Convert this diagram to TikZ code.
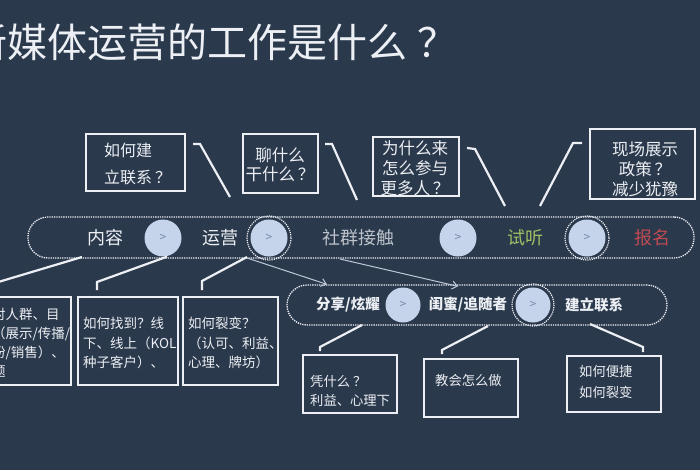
\documentclass[tikz,border=0pt]{standalone}
\usepackage{fontspec}
\setmainfont{Noto Sans CJK SC}
\usetikzlibrary{arrows.meta,calc}
\definecolor{bg}{RGB}{43,57,77}
\definecolor{lc}{RGB}{236,239,243}
\definecolor{tc}{RGB}{236,239,243}
\definecolor{cf}{RGB}{197,212,234}
\definecolor{gc}{RGB}{118,138,170}
\definecolor{ac}{RGB}{190,200,215}
\definecolor{gr}{RGB}{160,190,100}
\definecolor{rd}{RGB}{190,75,82}
\newcommand{\qm}{\hspace{3pt}？}
\begin{document}
\begin{tikzpicture}[x=1pt,y=-1pt,
  box/.style={draw=lc,line width=2.2pt,inner sep=0pt},
  txt/.style={text=tc,inner sep=0pt,align=left},
  pill/.style={draw=lc,densely dotted,line width=1.3pt,rounded corners=20pt,inner sep=0pt},
  dot/.style={circle,fill=cf,text=gc,minimum size=37pt,inner sep=0pt,font=\fontsize{12}{12}\selectfont},
  ring/.style={draw=lc,densely dotted,line width=1.2pt},
  conn/.style={draw=lc,line width=2.2pt},
  thinarr/.style={draw=ac,line width=1pt,-{Straight Barb[length=5pt,width=8pt]}},
  lab/.style={inner sep=0pt,font=\fontsize{18}{18}\selectfont},
  lab2/.style={inner sep=0pt,text=tc,font=\fontsize{14.5}{14.5}\selectfont\bfseries}
]
\useasboundingbox (0,0) rectangle (700,470);
\fill[bg] (0,0) rectangle (700,470);
\begin{scope}
\clip (0,0) rectangle (700,470);
% title
\node[anchor=west,text=tc,inner sep=0pt,font=\fontsize{40}{40}\selectfont] (title) at (-33,42) {新媒体运营的工作是什么\hspace{10pt}？};

% top boxes
\node[box,minimum width=99pt,minimum height=57pt] (t1) at (135.5,162.5) {};
\node[txt,anchor=west,font=\fontsize{16}{27}\selectfont] (t1t) at (104,163.5) {如何建\\立联系\qm};
\node[box,minimum width=75pt,minimum height=59pt] (t2) at (280.5,163.5) {};
\node[txt,align=center,font=\fontsize{16.5}{19}\selectfont] (t2t) at (280,164.5) {聊什么\\干什么\qm};
\node[box,minimum width=86pt,minimum height=59pt] (t3) at (416,166.5) {};
\node[txt,align=center,font=\fontsize{16.5}{20}\selectfont] (t3t) at (415,168) {为什么来\\怎么参与\\更多人\qm};
\node[box,minimum width=105pt,minimum height=70pt] (t4) at (642.5,164) {};
\node[txt,align=center,font=\fontsize{16.5}{20}\selectfont] (t4t) at (645,169) {现场展示\\政策\qm\\减少犹豫};

% slashes
\coordinate (s1a) at (193,144); \coordinate (s1b) at (200,144); \coordinate (s1c) at (230,197);
\coordinate (s2a) at (325,144); \coordinate (s2b) at (332,144); \coordinate (s2c) at (357,200);
\coordinate (s3a) at (467,148); \coordinate (s3b) at (475,149); \coordinate (s3c) at (505,206);
\coordinate (s4a) at (540,206); \coordinate (s4b) at (573,143); \coordinate (s4c) at (582,143);
\draw[conn] (s1a) -- (s1b) -- (s1c);
\draw[conn] (s2a) -- (s2b) -- (s2c);
\draw[conn] (s3a) -- (s3b) -- (s3c);
\draw[conn] (s4a) -- (s4b) -- (s4c);

% main bar
\node[pill,minimum width=666pt,minimum height=41pt] (bar) at (361,237.5) {};
\node[lab,text=tc] (n1) at (105,238) {内容};
\node[lab,text=tc] (n2) at (220,238) {运营};
\node[lab,text=tc!75!bg] (n3) at (358,238) {社群接触};
\node[lab,text=gr] (n4) at (525,238) {试听};
\node[lab,text=rd] (n5) at (652,238) {报名};
\node[dot] (c1) at (163,238) {>};
\node[dot] (c2) at (269,238) {>};
\node[dot] (c3) at (458,238) {>};
\node[dot] (c4) at (587,238) {>};
\draw[ring] (c2) circle (22);
\draw[ring] (c4) circle (22);

% lower left boxes
\node[box,minimum width=81pt,minimum height=88pt] (l1) at (30.5,341) {};
\node[txt,anchor=west,font=\fontsize{13.5}{19}\selectfont] (l1t) at (-8,342.5) {对人群、目\\（展示/传播/\\粉/销售）、\\题};
\node[box,minimum width=100pt,minimum height=88pt] (l2) at (128,341) {};
\node[txt,anchor=west,font=\fontsize{13.5}{19.5}\selectfont] (l2t) at (83,343) {如何找到？线\\下、线上（KOL\\种子客户）、};
\node[box,minimum width=95pt,minimum height=88pt] (l3) at (230.5,341) {};
\node[txt,anchor=west,font=\fontsize{13.5}{19.5}\selectfont] (l3t) at (188,343) {如何裂变？\\（认可、利益、\\心理、牌坊）};

\coordinate (e1) at (-5,283);
\coordinate (e2) at (97,282); \coordinate (e2b) at (97,290);
\coordinate (e3) at (202,281); \coordinate (e3b) at (202,290);
\draw[conn] (82,257) -- (e1);
\draw[conn] ([xshift=4pt]c1.south) -- (e2) -- (e2b);
\draw[conn] (247,257) -- (e3) -- (e3b);

% second bar
\node[pill,minimum width=380pt,minimum height=40pt] (bar2) at (477,305) {};
\draw[thinarr] (247,258) -- ([xshift=-150pt]bar2.north);
\draw[thinarr] (340,259) -- ([xshift=-19pt,yshift=-2pt]bar2.north);
\node[lab2] (m1) at (348,305) {分享/炫耀};
\node[lab2] (m2) at (468,305) {闺蜜/追随者};
\node[lab2] (m3) at (594,305) {建立联系};
\node[dot,minimum size=35pt] (c5) at (403,305) {>};
\node[dot,minimum size=35pt] (c6) at (533,305) {>};
\draw[ring] (c6) circle (21);

% bottom boxes
\node[box,minimum width=94pt,minimum height=58pt] (b1) at (350,384) {};
\node[txt,anchor=west,font=\fontsize{13.3}{19}\selectfont] (b1t) at (310,391) {凭什么\qm\\利益、心理下};
\node[box,minimum width=94pt,minimum height=58pt] (b2) at (471,388) {};
\node[txt,anchor=west,font=\fontsize{13.3}{19}\selectfont] (b2t) at (435,380) {教会怎么做};
\node[box,minimum width=94pt,minimum height=56pt] (b3) at (614,384) {};
\node[txt,anchor=west,font=\fontsize{13.3}{21}\selectfont] (b3t) at (579,381.5) {如何便捷\\如何裂变};

\coordinate (f1) at (320,347); \coordinate (f1b) at (320,351);
\coordinate (f2) at (442,350); \coordinate (f2b) at (442,354);
\coordinate (f3) at (643,347); \coordinate (f3b) at (643,352);
\draw[conn] (362,325) -- (f1) -- (f1b);
\draw[conn] (488,326) -- (f2) -- (f2b);
\draw[conn] (590,324) -- (f3) -- (f3b);
\end{scope}
\end{tikzpicture}
\end{document}
